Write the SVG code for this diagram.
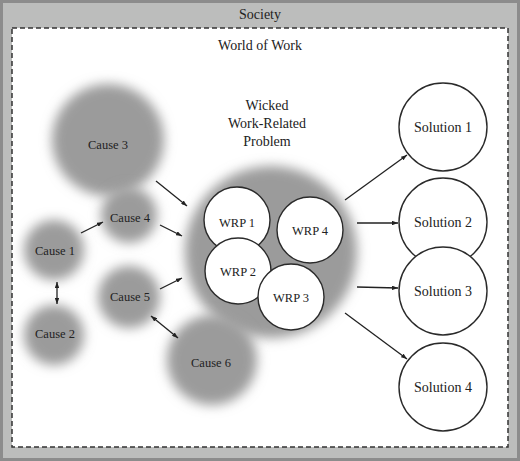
<svg xmlns="http://www.w3.org/2000/svg" width="520" height="461" viewBox="0 0 520 461">
<style>
text{font-family:"Liberation Serif","Times New Roman",serif;fill:#222;text-anchor:middle}
.lbl{font-size:14px}
.cause{font-size:12.5px}
.wrp{font-size:12.5px}
.blob{fill:#9b9b9b;filter:url(#blur)}
.w{fill:#fff;stroke:#2a2a2a;stroke-width:1.4}
.c{stroke:#222;stroke-width:1.3;fill:none}
.a{marker-end:url(#ah)}
.d{marker-start:url(#ahs);marker-end:url(#ah)}
</style>
<defs>
<filter id="blur" x="-50%" y="-50%" width="200%" height="200%"><feGaussianBlur stdDeviation="6"/></filter>
<marker id="ah" viewBox="0 0 8 6" refX="8" refY="3" markerWidth="6" markerHeight="4.5" orient="auto" markerUnits="userSpaceOnUse"><path d="M0,0L8,3L0,6z" fill="#222"/></marker>
<marker id="ahs" viewBox="0 0 8 6" refX="0" refY="3" markerWidth="6" markerHeight="4.5" orient="auto" markerUnits="userSpaceOnUse"><path d="M8,0L0,3L8,6z" fill="#222"/></marker>
</defs>
<g id="society">
<rect x="1.5" y="1.5" width="517" height="458" fill="#bcbdbc" stroke="#8c8c8c" stroke-width="3"/>
<text class="lbl" x="260" y="18.5">Society</text>
</g>
<g id="world-of-work">
<rect x="12" y="28" width="496" height="419" fill="#fff" stroke="#333" stroke-width="1.5" stroke-dasharray="5,3"/>
<text class="lbl" x="260" y="50">World of Work</text>
</g>
<g id="wicked-problem">
<circle class="blob" cx="271" cy="252" r="86"/>
<text class="lbl" x="267" y="110">Wicked</text>
<text class="lbl" x="267" y="128">Work-Related</text>
<text class="lbl" x="267" y="146">Problem</text>
</g>
<g id="cause3"><circle class="blob" cx="108" cy="140" r="56"/><text class="cause" x="108" y="149">Cause 3</text></g>
<g id="cause4"><circle class="blob" cx="129" cy="215" r="28"/><text class="cause" x="130" y="222">Cause 4</text></g>
<g id="cause1"><circle class="blob" cx="54" cy="250" r="30"/><text class="cause" x="55" y="255">Cause 1</text></g>
<g id="cause2"><circle class="blob" cx="54" cy="335" r="30"/><text class="cause" x="55" y="338">Cause 2</text></g>
<g id="cause5"><circle class="blob" cx="129" cy="297" r="31"/><text class="cause" x="130" y="301">Cause 5</text></g>
<g id="cause6"><circle class="blob" cx="212" cy="360" r="45"/><text class="cause" x="211" y="367">Cause 6</text></g>
<g id="wrp1"><circle class="w" cx="237" cy="220" r="33"/><text class="wrp" x="237" y="227">WRP 1</text></g>
<g id="wrp2"><circle class="w" cx="238" cy="271" r="33"/><text class="wrp" x="238" y="276">WRP 2</text></g>
<g id="wrp4"><circle class="w" cx="310" cy="230" r="33"/><text class="wrp" x="310" y="235">WRP 4</text></g>
<g id="wrp3"><circle class="w" cx="291" cy="297" r="33"/><text class="wrp" x="291" y="302">WRP 3</text></g>
<g id="solution1"><circle class="w" cx="443" cy="127" r="44"/><text class="lbl" x="443" y="132">Solution 1</text></g>
<g id="solution2"><circle class="w" cx="443" cy="222" r="44"/><text class="lbl" x="443" y="227">Solution 2</text></g>
<g id="solution3"><circle class="w" cx="443" cy="291" r="44"/><text class="lbl" x="443" y="296">Solution 3</text></g>
<g id="solution4"><circle class="w" cx="443" cy="387" r="44"/><text class="lbl" x="443" y="392">Solution 4</text></g>
<g id="connectors">
<line class="c a" x1="156" y1="181" x2="187" y2="206"/>
<line class="c a" x1="160" y1="225" x2="182" y2="236"/>
<line class="c a" x1="81" y1="233" x2="103" y2="222"/>
<line class="c d" x1="57" y1="282" x2="57" y2="304"/>
<line class="c a" x1="160" y1="289" x2="182" y2="278"/>
<line class="c d" x1="151" y1="316" x2="178" y2="338"/>
<line class="c a" x1="345" y1="200" x2="407" y2="155"/>
<line class="c a" x1="357" y1="223" x2="398" y2="223"/>
<line class="c a" x1="357" y1="287" x2="398" y2="288"/>
<line class="c a" x1="345" y1="313" x2="407" y2="359"/>
</g>
</svg>
